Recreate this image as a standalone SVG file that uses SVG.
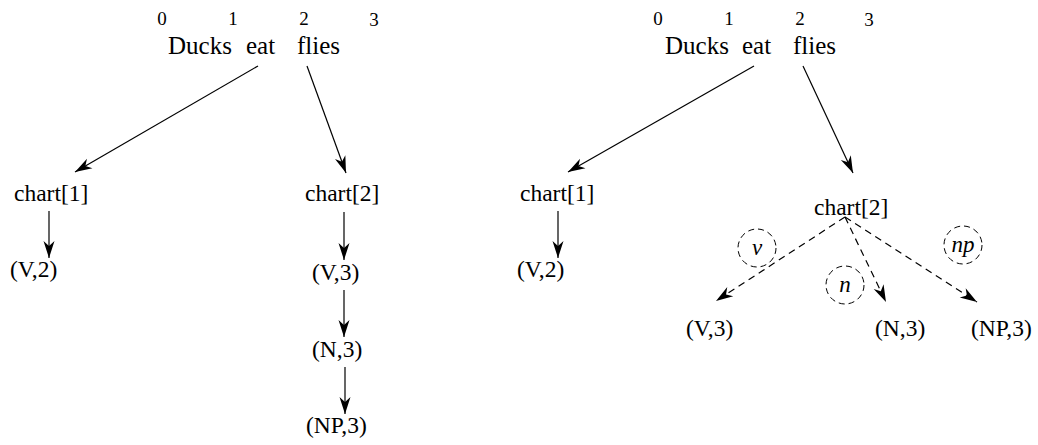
<svg xmlns="http://www.w3.org/2000/svg" width="1038" height="445" viewBox="0 0 1038 445">
  <style>
    text { font-family: "Liberation Serif", "Times New Roman", serif; fill: #000; }
    .idx { font-size: 19px; }
    .word { font-size: 25px; }
    .lbl { font-size: 23.5px; }
    .sym { font-size: 23px; font-style: italic; }
    .edge { stroke: #000; stroke-width: 1.2; fill: none; marker-end: url(#dart); }
    .dash { stroke-dasharray: 7 5; }
    .ring { stroke: #000; stroke-width: 1; fill: none; stroke-dasharray: 6 4; }
  </style>
  <defs>
    <marker id="dart" markerUnits="userSpaceOnUse" markerWidth="22" markerHeight="14" viewBox="-19 -7 21 14" refX="0" refY="0" orient="auto">
      <path d="M0,0 L-17,-5.5 L-12,0 L-17,5.5 Z" fill="#000"/>
    </marker>
  </defs>

  <!-- sentence with word boundaries, left panel -->
  <g id="sentence-left">
    <text class="idx" x="162" y="25" text-anchor="middle">0</text>
    <text class="idx" x="233" y="25" text-anchor="middle">1</text>
    <text class="idx" x="304" y="25" text-anchor="middle">2</text>
    <text class="idx" x="374" y="26" text-anchor="middle">3</text>
    <text class="word" x="168" y="54">Ducks</text>
    <text class="word" x="246" y="54">eat</text>
    <text class="word" x="297" y="54">flies</text>
  </g>
  <g id="chart1-left"><text class="lbl" x="14" y="201">chart[1]</text></g>
  <g id="v2-left"><text class="lbl" x="10" y="277">(V,2)</text></g>
  <g id="chart2-left"><text class="lbl" x="305" y="201">chart[2]</text></g>
  <g id="v3-left"><text class="lbl" x="312" y="280">(V,3)</text></g>
  <g id="n3-left"><text class="lbl" x="312" y="357">(N,3)</text></g>
  <g id="np3-left"><text class="lbl" x="306" y="433">(NP,3)</text></g>

  <!-- sentence with word boundaries, right panel -->
  <g id="sentence-right">
    <text class="idx" x="658" y="25" text-anchor="middle">0</text>
    <text class="idx" x="729" y="25" text-anchor="middle">1</text>
    <text class="idx" x="800" y="25" text-anchor="middle">2</text>
    <text class="idx" x="869" y="26" text-anchor="middle">3</text>
    <text class="word" x="665" y="54">Ducks</text>
    <text class="word" x="742" y="54">eat</text>
    <text class="word" x="793" y="54">flies</text>
  </g>
  <g id="chart1-right"><text class="lbl" x="520" y="201">chart[1]</text></g>
  <g id="v2-right"><text class="lbl" x="517" y="277">(V,2)</text></g>
  <g id="chart2-right"><text class="lbl" x="814" y="215">chart[2]</text></g>
  <g id="v3-right"><text class="lbl" x="686" y="336">(V,3)</text></g>
  <g id="n3-right"><text class="lbl" x="875" y="336">(N,3)</text></g>
  <g id="np3-right"><text class="lbl" x="971" y="336">(NP,3)</text></g>

  <!-- dashed tags on the transitions -->
  <g id="tag-v"><circle class="ring" cx="757" cy="248" r="19"/><text class="sym" x="757" y="255" text-anchor="middle">v</text></g>
  <g id="tag-n"><circle class="ring" cx="845" cy="285" r="19"/><text class="sym" x="845" y="292" text-anchor="middle">n</text></g>
  <g id="tag-np"><circle class="ring" cx="963" cy="245" r="19"/><text class="sym" x="963" y="252" text-anchor="middle">np</text></g>

  <g id="connectors">
    <line class="edge" x1="258" y1="66" x2="75" y2="172"/>
    <line class="edge" x1="307" y1="66" x2="346" y2="173"/>
    <line class="edge" x1="49" y1="211" x2="49" y2="258"/>
    <line class="edge" x1="344" y1="212" x2="344" y2="260"/>
    <line class="edge" x1="344" y1="290" x2="344" y2="337"/>
    <line class="edge" x1="345" y1="367" x2="345" y2="414"/>

    <line class="edge" x1="754" y1="66" x2="568" y2="172"/>
    <line class="edge" x1="803" y1="66" x2="853" y2="173"/>
    <line class="edge" x1="558" y1="211" x2="558" y2="258"/>
    <line class="edge dash" x1="845" y1="217" x2="716" y2="301"/>
    <line class="edge dash" x1="845" y1="217" x2="886" y2="302"/>
    <line class="edge dash" x1="845" y1="217" x2="977" y2="302"/>
  </g>
</svg>
